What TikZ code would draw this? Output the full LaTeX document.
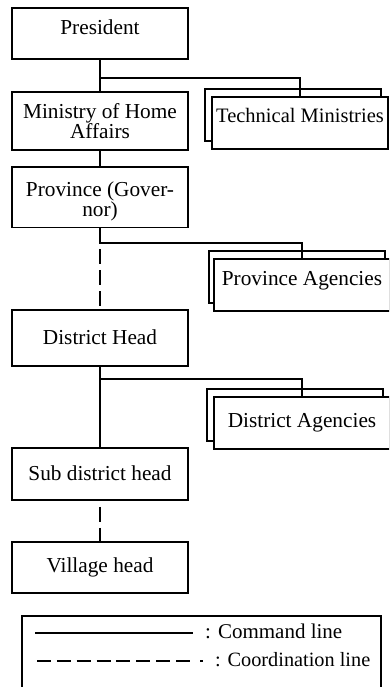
\documentclass[tikz,border=0pt]{standalone}
\usepackage{fontspec}
\setmainfont{Liberation Serif}
\begin{document}
\begin{tikzpicture}[x=1pt,y=-1pt,
  every node/.style={font=\fontsize{21.3}{20}\selectfont, inner sep=0pt},
  box/.style={draw, line width=1.6pt, fill=white, minimum width=176pt, align=center},
  agency/.style={box, minimum height=52pt},
  cmd/.style={line width=1.7pt},
  coord/.style={line width=1.7pt, dash pattern=on 15pt off 6pt, dash phase=15pt},
]
\useasboundingbox (0,0) rectangle (389,687);
\clip (0,0) rectangle (389,687);

% main chain of offices
\node[box, minimum height=51pt, text height=12pt, text depth=9.6pt] (pres) at (100,33.8) {President};
\node[box, minimum height=58pt, text height=36pt, text depth=1.6pt] (mha) at (100,121.1) {Ministry of Home\\Affairs};
\node[box, minimum height=60pt, text height=38pt, text depth=0.6pt] (prov) at (100,197.3) {Province (Gover-\\nor)};
\node[box, minimum height=56pt, text height=14pt, text depth=2pt] (dist) at (100,338) {District Head};
\node[box, minimum height=52pt, text height=15pt, text depth=2pt] (sub) at (100,474) {Sub district head};
\node[box, minimum height=51pt, text height=14pt, text depth=4pt] (vil) at (100,567.5) {Village head};

% stacked agency boxes (back sheet first, then front sheet)
\node[agency] (tmback) at (293,115) {};
\node[agency, font=\fontsize{20.5}{20}\selectfont, text height=8pt, text depth=8pt] (tm) at (300,123) {Technical Ministries};
\node[agency] (paback) at (297,277) {};
\node[agency, text height=8pt, text depth=8pt] (pa) at (302,285) {Province Agencies};
\node[agency] (daback) at (295,415) {};
\node[agency, text height=12pt, text depth=4pt] (da) at (302,423) {District Agencies};

% branch points
\coordinate (b1) at (100,78);
\coordinate (b2) at (100,243);
\coordinate (b3) at (100,379);

% command lines
\draw[cmd] (pres.south) -- (mha.north);
\draw[cmd] (b1) -| (tm.north);
\draw[cmd] (mha.south) -- (prov.north);
\draw[cmd] (prov.south) -- (b2) -| (pa.north);
\draw[cmd] (dist.south) -- (sub.north);
\draw[cmd] (b3) -| (da.north);

% coordination lines
\draw[coord] (b2) -- (dist.north);
\draw[coord] (sub.south) -- (vil.north);

% legend
\draw[line width=1.2pt] (22,616) rectangle (381,700);
\coordinate (lc1) at (35,633);
\coordinate (lc2) at (193,633);
\draw[cmd] (lc1) -- (lc2);
\node[anchor=base west, font=\fontsize{21}{20}\selectfont] (lcmd) at (205,638.5) {: Command line};
\coordinate (ld1) at (37,661);
\coordinate (ld2) at (190,661);
\coordinate (ld3) at (200,661);
\coordinate (ld4) at (203,661);
\draw[line width=1.7pt, dash pattern=on 14pt off 5.86pt] (ld1) -- (ld2);
\draw[line width=1.7pt] (ld3) -- (ld4);
\node[anchor=base west, font=\fontsize{20.3}{20}\selectfont] (lcoord) at (215,666) {: Coordination line};
\end{tikzpicture}
\end{document}
